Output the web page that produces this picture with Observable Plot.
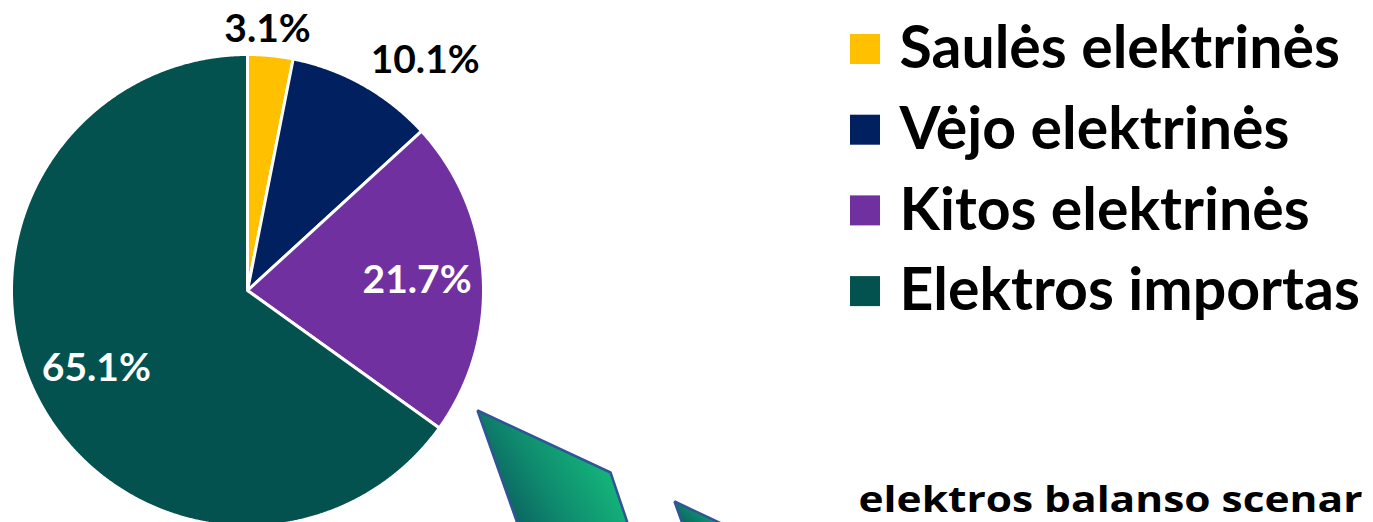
<!DOCTYPE html>
<html><head><meta charset="utf-8">
<script src="https://cdn.jsdelivr.net/npm/d3@7"></script>
<script src="https://cdn.jsdelivr.net/npm/@observablehq/plot@0.6"></script>
<style>html,body{margin:0;padding:0;background:#fff;overflow:hidden;} svg{display:block;}</style>
</head><body><div id="chart"></div>
<script>
// ---- data ----
const categories = ["Saulės elektrinės", "Vėjo elektrinės", "Kitos elektrinės", "Elektros importas"];
const shares = [3.1, 10.1, 21.7, 65.1];
const shareLabels = ["3.1%", "10.1%", "21.7%", "65.1%"];
const colors = ["#FFC000", "#002060", "#7030A0", "#03524F"];
const footerText = "elektros balanso scenar";

// ---- layout ----
const W = 1373, H = 522, cx = 247, cy = 290, R = 236;
const labelPlace = [
  {r: 1.11, da: -1.2, fill: "#000"},
  {r: 1.23, da: 8.4, fill: "#000"},
  {r: 0.72, da: 0, fill: "#fff"},
  {r: 0.72, da: 0, fill: "#fff"}
];
const legendX = 850, legendBox = 30, legendTextX = 899, legendY0 = 49, legendStep = 80.7;
const footerX = 858, footerY = 511, footerStretch = 1.18;
const decorShapes = [
  [[477, 410], [610, 472], [633, 540], [523, 540]],
  [[674, 501], [757, 540], [688, 540]]
];

const arcs = d3.pie().sort(null).value(d => d)(shares);
const pt = (a, r) => [cx + r * Math.sin(a), cy - r * Math.cos(a)];

const slicePts = [];
arcs.forEach((a, i) => {
  slicePts.push({cat: categories[i], x: cx, y: cy});
  const n = Math.max(2, Math.ceil((a.endAngle - a.startAngle) / 0.004));
  for (let k = 0; k <= n; k++) {
    const t = a.startAngle + (a.endAngle - a.startAngle) * k / n;
    const [x, y] = pt(t, R);
    slicePts.push({cat: categories[i], x, y});
  }
});

const labelData = arcs.map((a, i) => {
  const mid = (a.startAngle + a.endAngle) / 2 + labelPlace[i].da * Math.PI / 180;
  const [x, y] = pt(mid, R * labelPlace[i].r);
  return {text: shareLabels[i], x, y, fill: labelPlace[i].fill};
});

const legendData = categories.map((c, i) => ({cat: c, y: legendY0 + i * legendStep}));

const decorPts = [];
decorShapes.forEach((s, j) => s.forEach(([x, y]) => decorPts.push({id: j, x, y})));

function gradientDefs() {
  const ns = "http://www.w3.org/2000/svg";
  const g = document.createElementNS(ns, "g");
  const defs = document.createElementNS(ns, "defs");
  const lg = document.createElementNS(ns, "linearGradient");
  lg.setAttribute("id", "decorGrad");
  lg.setAttribute("x1", "0"); lg.setAttribute("y1", "0.85");
  lg.setAttribute("x2", "1"); lg.setAttribute("y2", "0.35");
  [["0", "#0A4A57"], ["0.45", "#0F8A6E"], ["1", "#16C880"]].forEach(([o, c]) => {
    const st = document.createElementNS(ns, "stop");
    st.setAttribute("offset", o); st.setAttribute("stop-color", c);
    lg.appendChild(st);
  });
  defs.appendChild(lg); g.appendChild(defs);
  return g;
}

const chart = Plot.plot({
  width: W, height: H,
  marginTop: 0, marginRight: 0, marginBottom: 0, marginLeft: 0,
  x: {type: "identity", axis: null},
  y: {type: "identity", axis: null},
  color: {domain: categories, range: colors},
  style: {fontFamily: "Lato, 'Open Sans', sans-serif", background: "#fff", overflow: "visible"},
  marks: [
    gradientDefs,
    Plot.line(decorPts, {x: "x", y: "y", z: "id", curve: "linear-closed", fill: "url(#decorGrad)", stroke: "#2F5597", strokeWidth: 2.5, strokeLinejoin: "miter"}),
    Plot.line(slicePts, {x: "x", y: "y", z: "cat", fill: "cat", curve: "linear-closed", stroke: "#fff", strokeWidth: 3, strokeLinejoin: "round"}),
    Plot.text(labelData, {x: "x", y: "y", text: "text", fill: d => d.fill, fontSize: 39, fontWeight: 700}),
    Plot.rect(legendData, {x1: () => legendX, x2: () => legendX + legendBox, y1: d => d.y - legendBox / 2, y2: d => d.y + legendBox / 2, fill: "cat"}),
    Plot.text(legendData, {x: () => legendTextX, y: "y", text: "cat", textAnchor: "start", fontSize: 59, fontWeight: 700, fill: "#000"}),
    Plot.text([footerText], {x: () => footerX, y: () => footerY, text: d => d, textAnchor: "start", lineAnchor: "bottom", fontSize: 36, fontWeight: 700, fill: "#000", fontFamily: "'Open Sans', sans-serif"})
  ]
});
chart.querySelectorAll("text").forEach(t => {
  if (t.textContent === footerText) {
    const prev = t.getAttribute("transform") || "";
    t.setAttribute("transform", `translate(${footerX},0) scale(${footerStretch},1) translate(${-footerX},0) ${prev}`);
  }
});
document.getElementById("chart").appendChild(chart);
</script>
</body></html>
